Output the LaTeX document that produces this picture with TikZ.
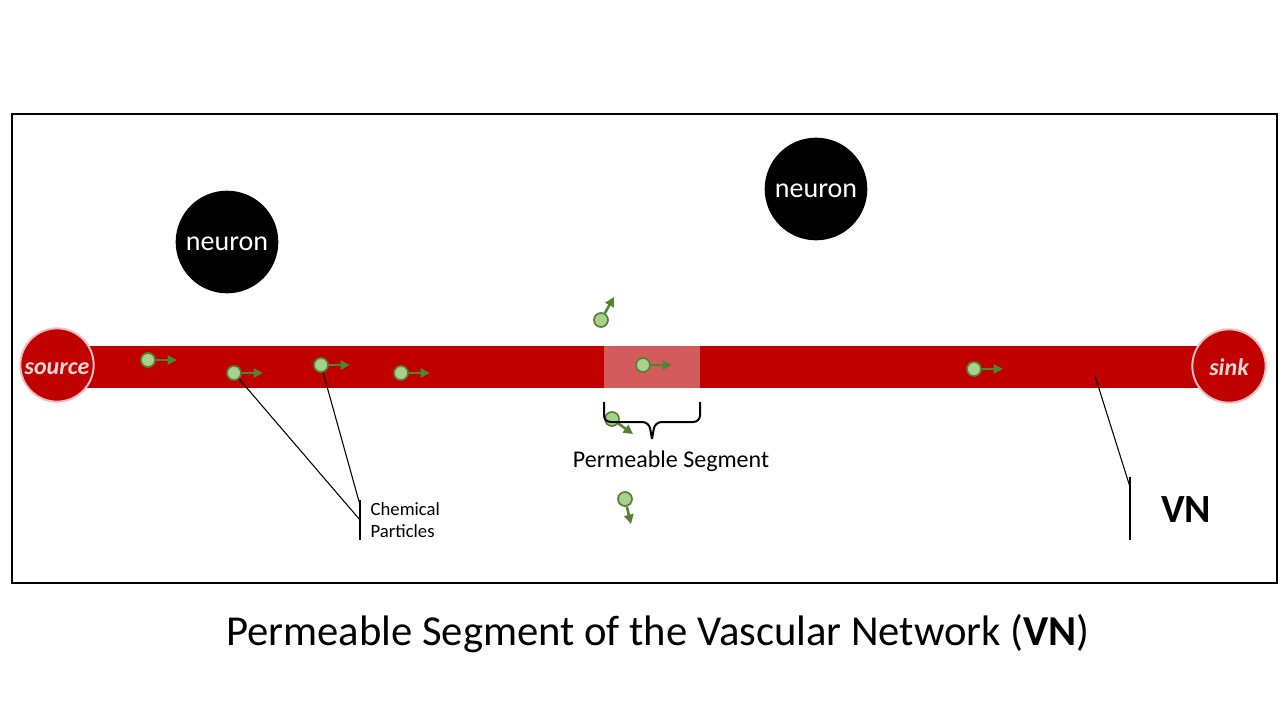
\documentclass[tikz,border=0pt]{standalone}
\usepackage{fontspec}
\setmainfont{Carlito}
\usepackage{xcolor}
\usetikzlibrary{arrows.meta,positioning}

\definecolor{vessel}{HTML}{C00000}
\definecolor{permseg}{HTML}{D45B5B}
\definecolor{ringpink}{HTML}{F4BDBD}
\definecolor{textpink}{HTML}{FBD6D6}
\definecolor{partfill}{HTML}{A9D18E}
\definecolor{partedge}{HTML}{548235}

\tikzset{
    endpoint/.style={circle, fill=vessel, draw=ringpink, line width=1.5pt,
        minimum size=55pt, inner sep=0pt, text=textpink, text height=14pt,
        font=\fontsize{18}{20}\selectfont\bfseries\itshape},
    neuron/.style={circle, fill=black, minimum size=77pt, inner sep=0pt,
        text=white, text height=12.5pt, font=\fontsize{21}{24}\selectfont},
    particle/.style={circle, fill=partfill, draw=partedge, line width=1.3pt,
        minimum size=10.5pt, inner sep=0pt},
    flow/.style={partedge, line width=1.9pt, -{Triangle[length=7pt,width=7pt]}},
    callout/.style={black, line width=0.8pt},
    bar/.style={black, line width=1.2pt}
}

\begin{document}
\begin{tikzpicture}[x=0.75pt,y=-0.75pt]
    \useasboundingbox (0,0) rectangle (1280,720);

    % Frame
    \draw[line width=1.3pt] (12,114) rectangle (1277,583);

    % Vessel
    \fill[vessel] (57,346) rectangle (1229,388);
    \fill[permseg] (604,346) rectangle (700,388);
    \node[endpoint] (source) at (57,365) {source};
    \node[endpoint] (sink) at (1229,366) {sink};

    % Neurons
    \node[neuron] (neuronA) at (227,242) {neuron};
    \node[neuron] (neuronB) at (816,189) {neuron};

    % Particles flowing in the vessel
    \foreach \name/\x/\y in {p1/148/360, p2/234/373, p3/321/365, p4/401/373, p5/643/365, p6/974/369} {
        \node[particle] (\name) at (\x,\y) {};
        \draw[flow] (\name.east) -- ++(21,0);
    }

    % Particles leaving through the permeable segment
    \node[particle] (p7) at (601,320) {};
    \draw[flow] (p7) -- ++(13,-23);
    \node[particle] (p8) at (612,419) {};
    \draw[flow] (p8) -- ++(21,15);
    \node[particle] (p9) at (625,499) {};
    \draw[flow] (p9) -- ++(6,25);

    % Brace
    \draw[line width=1.5pt, rounded corners=5pt] (604,402) -- (604,422) -- (649,422) -- (652,439);
    \draw[line width=1.5pt, rounded corners=5pt] (700,402) -- (700,422) -- (655,422) -- (652,439);
    \node[font=\fontsize{18}{20}\selectfont] (segLabel) at (671,461) {Permeable Segment};

    % Chemical particles callout
    \coordinate (cpA) at (360,520);
    \coordinate (cpB) at (360,505);
    \draw[bar] (360,500) -- (360,540);
    \draw[callout] (p2) -- (cpA);
    \draw[callout] (p3) -- (cpB);
    \node[anchor=west, align=left, font=\fontsize{14}{17}\selectfont] (cpLabel) at (366,520) {Chemical\\Particles};

    % VN callout
    \coordinate (vnTip) at (1095,376);
    \coordinate (vnBar) at (1130,487);
    \draw[bar] (1130,477) -- (1130,540);
    \draw[callout] (vnTip) -- (vnBar);
    \node[font=\fontsize{30}{32}\selectfont\bfseries] (vnLabel) at (1186,510) {VN};

    % Title
    \node[font=\fontsize{32}{36}\selectfont] (title) at (658,634) {Permeable Segment of the Vascular Network (\textbf{VN})};

\end{tikzpicture}
\end{document}
